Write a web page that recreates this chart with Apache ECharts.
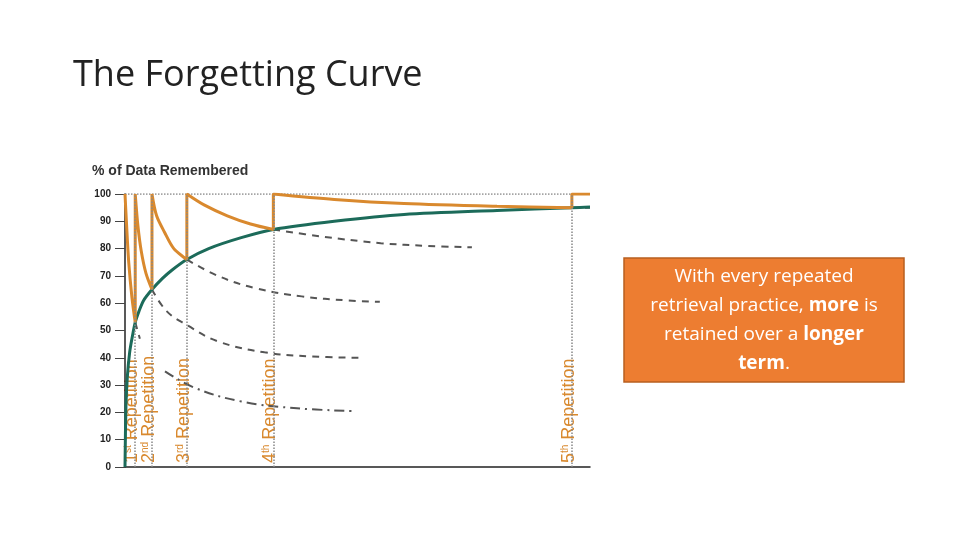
<!DOCTYPE html>
<html><head><meta charset="utf-8">
<script src="https://cdn.jsdelivr.net/npm/echarts@6/dist/echarts.min.js"></script>
<style>body{margin:0;background:#fff}#c{width:960px;height:540px}</style>
</head><body><div id="c"></div>
<script>
// repetition positions (x, 0..100 time scale)
const reps = [2.2, 5.8, 13.3, 31.9, 96.1];
const repNames = ["1st", "2nd", "3rd", "4th", "5th"];
const yTicks = [0, 10, 20, 30, 40, 50, 60, 70, 80, 90, 100];
const retention = [[0,100],[0.3,90],[0.8,75],[1.5,62],[2.2,53],[2.2,100],[2.8,88],[3.5,79],[4.5,71],[5.8,65],[5.8,100],
  [6.8,92],[8.5,86],[10.5,80],[13.3,76],[13.3,100],[17,96],[22,92],[27,89],[31.9,87],[31.9,100],
  [45,98],[60,96.5],[80,95.5],[96.1,95],[96.1,100],[100,100]];
const longTerm = [[0,0],[0.2,22],[0.5,33],[1,42],[1.6,48],[2.2,53],[3,57],[4,61],[5.8,65],[8,69],[10,72],[13.3,76],
  [18,80],[25,84],[31.9,87],[45,90],[60,92.5],[80,94],[96.1,95],[100,95.2]];
const decay1 = [[2.2,53],[3.2,47]];
const decay2 = [[8.6,35],[15,29],[25,24],[37,21.5],[49.5,20.5]];
const decay3 = [[5.8,65],[9,57],[13.3,52],[20,46],[30,42],[40,40.5],[50.5,40]];
const decay4 = [[13.3,76],[20,70],[28,65.5],[38,62.5],[48,61],[54.8,60.5]];
const decay5 = [[31.9,87],[42,84.5],[55,82],[65,81],[74.6,80.5]];
const decay6 = [[96.1,95],[100,95]];

const chart = echarts.init(document.getElementById('c'));
const dash = (d, t) => ({type:'line', data:d, symbol:'none', smooth:0.4, silent:true,
  lineStyle:{color:'#555', width:2, type:t || [7,6]}});
chart.setOption({
  animation:false,
  grid:{left:125, top:194, right:370, bottom:73},
  xAxis:{type:'value', min:0, max:100, axisLabel:{show:false}, splitLine:{show:false},
    axisLine:{lineStyle:{color:'#222', width:1.5}}, axisTick:{show:false}},
  yAxis:{type:'value', min:0, max:100, interval:10, splitLine:{show:false},
    axisLine:{show:true, lineStyle:{color:'#222', width:1.5}},
    axisTick:{show:true, length:10, lineStyle:{color:'#444'}},
    axisLabel:{fontSize:10, fontWeight:'bold', color:'#222', fontFamily:'Liberation Sans', margin:14,
      formatter:v => yTicks.includes(v) ? v : ''}},
  graphic:[
    {type:'text', left:73, top:58, style:{text:'The Forgetting Curve', fontSize:36, fill:'#222', fontFamily:'Open Sans'}},
    {type:'text', left:92, top:164, style:{text:'% of Data Remembered', fontSize:14, fontWeight:'bold', fill:'#333', fontFamily:'Liberation Sans'}},
    {type:'rect', shape:{x:624, y:258, width:280, height:124}, style:{fill:'#ED7D31', stroke:'#B85F1F', lineWidth:1.5}},
    {type:'text', x:764, y:320, style:{text:'With every repeated\nretrieval practice, {b|more} is\nretained over a {b|longer}\n{b|term}.',
      align:'center', verticalAlign:'middle', fontSize:19, lineHeight:29, fill:'#fff', fontFamily:'Open Sans',
      rich:{b:{fontWeight:'bold', fontSize:19, fill:'#fff', fontFamily:'Open Sans'}}}}
  ],
  series:[
    {type:'line', data:[[0,100],[96.1,100]], symbol:'none', silent:true, lineStyle:{color:'#888', width:1.5, type:'dotted'},
      markLine:{symbol:'none', silent:true, label:{show:false}, lineStyle:{color:'#888', width:1.5, type:'dotted'},
        data:reps.map(r => [{coord:[r,0]},{coord:[r,100]}])}},
    dash(decay1), dash(decay2, [10,5,2,5]), dash(decay3), dash(decay4), dash(decay5), dash(decay6),
    {type:'line', data:longTerm, symbol:'none', smooth:0.3, lineStyle:{color:'#1C6B5A', width:3}},
    {type:'line', data:retention, symbol:'none', smooth:0.3, lineStyle:{color:'#D9892E', width:3}}
  ]
});
// rotated repetition labels
const labels = reps.map((r, i) => {
  const p = chart.convertToPixel({gridIndex:0}, [r, 0]);
  return {type:'text', x:p[0] - 12, y:p[1] - 4, rotation:Math.PI/2, origin:[0,0],
    style:{text:'{n|' + repNames[i].slice(0,1) + '}{s|' + repNames[i].slice(1) + '} Repetition', fill:'#D9892E',
      fontSize:18, fontFamily:'Liberation Sans', verticalAlign:'top',
      rich:{n:{fontSize:18, fill:'#D9892E'}, s:{fontSize:10, fill:'#D9892E', verticalAlign:'top'}}}};
});
// rotation positive is counter-clockwise; text reads bottom-to-top
labels.forEach(l => { l.style.align = 'left'; });
chart.setOption({graphic: chart.getOption().graphic[0].elements.concat(labels)});
</script></body></html>
